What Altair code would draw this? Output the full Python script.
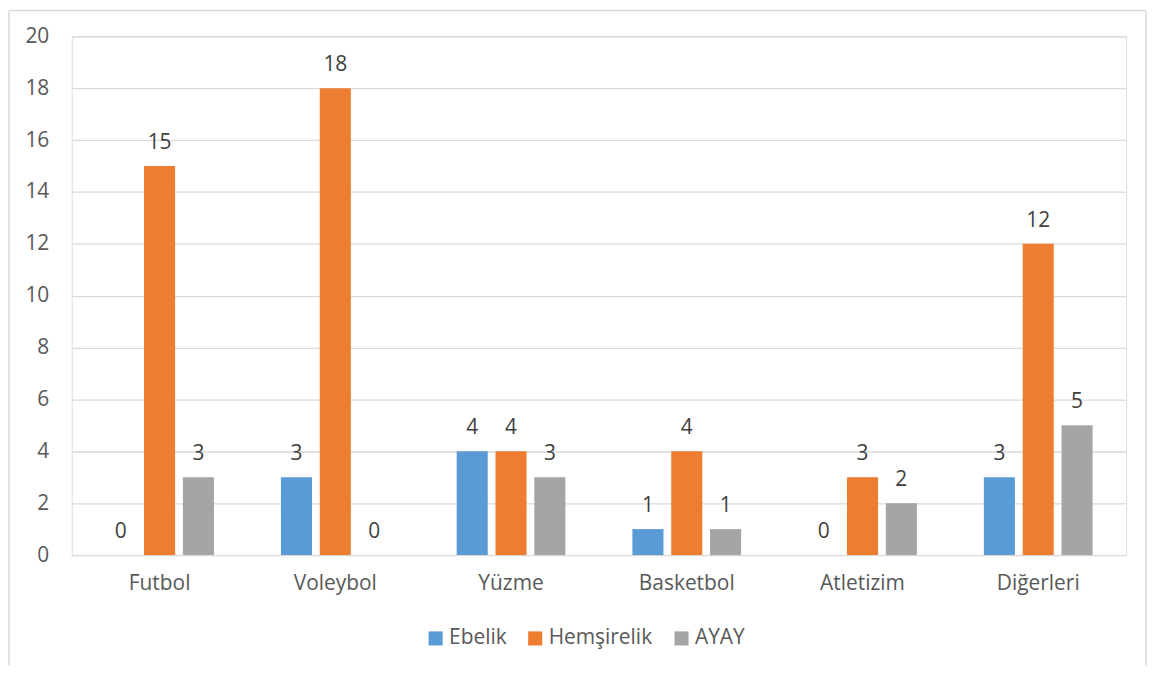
import altair as alt
import pandas as pd

categories = ["Futbol", "Voleybol", "Yüzme", "Basketbol", "Atletizim", "Diğerleri"]
series = ["Ebelik", "Hemşirelik", "AYAY"]
ebelik = [0, 3, 4, 1, 0, 3]
hemsirelik = [15, 18, 4, 4, 3, 12]
ayay = [3, 0, 3, 1, 2, 5]
colors = ["#5B9BD5", "#ED7D31", "#A5A5A5"]

rows = []
for i, c in enumerate(categories):
    for s, vals in zip(series, [ebelik, hemsirelik, ayay]):
        rows.append({"Kategori": c, "Seri": s, "Değer": vals[i]})
df = pd.DataFrame(rows)

FONT = "Open Sans"
FS = 21

x = alt.X("Kategori:N", sort=categories, title=None,
          scale=alt.Scale(paddingInner=0.337, paddingOuter=0.1685),
          axis=alt.Axis(labelAngle=0, labelFontSize=FS, labelColor="#595959",
                        labelFont=FONT, labelPadding=18, ticks=False, domain=False))
xo = alt.XOffset("Seri:N", sort=series,
                 scale=alt.Scale(paddingInner=0.2, paddingOuter=0.1))
y = alt.Y("Değer:Q", title=None,
          scale=alt.Scale(domain=[0, 20], nice=False),
          axis=alt.Axis(values=list(range(0, 21, 2)), labelFontSize=FS, labelColor="#595959",
                        labelFont=FONT, labelPadding=23, ticks=False, domain=False,
                        gridColor="#D9D9D9", gridWidth=1.3))
color = alt.Color("Seri:N", sort=series,
                  scale=alt.Scale(domain=series, range=colors),
                  legend=alt.Legend(orient="none", legendX=355, legendY=594,
                                    title=None, direction="horizontal",
                                    symbolType="square", symbolSize=200, symbolStrokeWidth=0,
                                    labelFontSize=FS, labelColor="#595959", labelFont=FONT,
                                    labelOffset=3, columnPadding=18))

bars = alt.Chart(df).mark_bar().encode(x=x, xOffset=xo, y=y, color=color)
labels = alt.Chart(df).mark_text(baseline="alphabetic", dy=-17, fontSize=FS,
                                 color="#404040", font=FONT).encode(
    x=x, xOffset=xo, y=y, text=alt.Text("Değer:Q"))

dummy = pd.DataFrame({"a": [0]})
frame_style = dict(stroke="#D9D9D9", strokeWidth=1.5)
left = alt.Chart(dummy).mark_rule(**frame_style).encode(
    x=alt.value(-63), y=alt.value(-26), y2=alt.value(632))
right = alt.Chart(dummy).mark_rule(**frame_style).encode(
    x=alt.value(1079), y=alt.value(-26), y2=alt.value(632))
top = alt.Chart(dummy).mark_rule(**frame_style).encode(
    x=alt.value(-63), x2=alt.value(1079), y=alt.value(-26))

chart = alt.layer(left, right, top, bars, labels).properties(
    width=1059, height=521,
    padding={"left": 0, "top": 0, "right": 0, "bottom": 0}
).configure_view(stroke=None).configure(background="white")

chart.save("out.html", embed_options={"renderer": "svg", "actions": False})
